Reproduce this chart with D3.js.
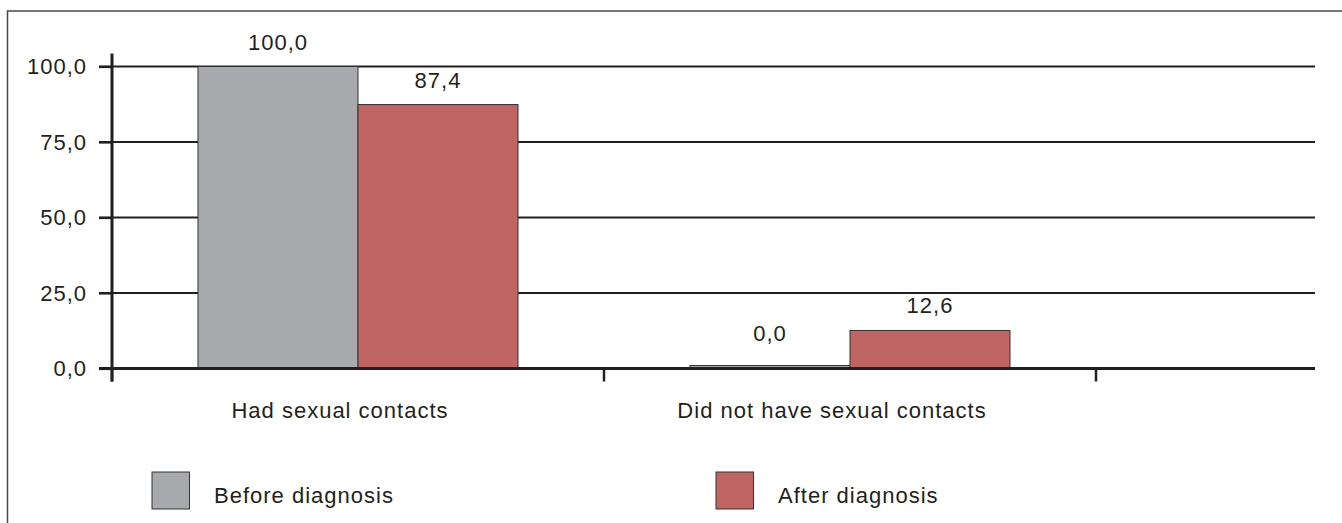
<!DOCTYPE html>
<html>
<head>
<meta charset="utf-8">
<script src="https://cdn.jsdelivr.net/npm/d3@7"></script>
<style>
  html, body { margin: 0; padding: 0; background: #fff; }
  svg { display: block; }
  text { font-family: "Liberation Sans", Arial, Helvetica, sans-serif; fill: #231f20; letter-spacing: 1px; }
</style>
</head>
<body>
<div id="chart"></div>
<script>
// ---- data ----
const categories = ["Had sexual contacts", "Did not have sexual contacts"];
const seriesNames = ["Before diagnosis", "After diagnosis"];
const beforeValues = [100.0, 0.0];
const afterValues = [87.4, 12.6];
const yTickValues = [0, 25, 50, 75, 100];
const seriesColors = ["#a7a9ac", "#c16464"];

// ---- setup ----
const W = 1342, H = 523;
const svg = d3.select("#chart").append("svg").attr("width", W).attr("height", H);
const ink = "#231f20";
const fmt = v => d3.format(".1f")(v).replace(".", ",");

// outer frame (extends past right/bottom edges)
svg.append("rect").attr("x", 7.5).attr("y", 11).attr("width", W + 20).attr("height", H + 20)
  .attr("fill", "none").attr("stroke", "#4a4a4a").attr("stroke-width", 1.5);

const plotLeft = 112, plotRight = 1315;
const y = d3.scaleLinear().domain([0, 100]).range([368.5, 66.5]);
const x = d3.scaleBand().domain(categories).range([plotLeft, 1096]).padding(0);
const barW = 160;
const xs = d3.scaleBand().domain(seriesNames).range([0, barW * 2]);

const tickLen = 13;

// gridlines
svg.append("g").selectAll("line").data(yTickValues).join("line")
  .attr("x1", plotLeft - tickLen).attr("x2", plotRight)
  .attr("y1", d => y(d)).attr("y2", d => y(d))
  .attr("stroke", ink).attr("stroke-width", d => d === 0 ? 3 : 2.2);

// bars
const rows = categories.map((c, i) => ({ c, vals: [beforeValues[i], afterValues[i]] }));
const groups = svg.append("g").selectAll("g").data(rows).join("g")
  .attr("transform", d => `translate(${x(d.c) + x.bandwidth() / 2 - barW},0)`);
groups.selectAll("rect").data(d => d.vals.map((v, j) => ({ v, s: seriesNames[j], j }))).join("rect")
  .attr("x", d => xs(d.s))
  .attr("width", xs.bandwidth())
  .attr("y", d => Math.min(y(d.v), y(0) - 3))
  .attr("height", d => Math.max(y(0) - y(d.v), 3))
  .attr("fill", d => seriesColors[d.j])
  .attr("stroke", "#333").attr("stroke-width", 1);
groups.selectAll("text.val").data(d => d.vals.map((v, j) => ({ v, s: seriesNames[j] }))).join("text")
  .attr("class", "val")
  .attr("x", d => xs(d.s) + xs.bandwidth() / 2)
  .attr("y", d => Math.min(y(d.v) - 17, y(0) - 28))
  .attr("text-anchor", "middle")
  .style("font-size", "22px")
  .text(d => fmt(d.v));

// zero line on top of bars
svg.append("line").attr("x1", plotLeft).attr("x2", plotRight).attr("y1", y(0)).attr("y2", y(0))
  .attr("stroke", ink).attr("stroke-width", 3);

// y axis
const yAxis = d3.axisLeft(y).tickValues(yTickValues).tickSize(tickLen).tickPadding(12).tickFormat(fmt);
const yg = svg.append("g").attr("transform", `translate(${plotLeft},0)`).call(yAxis);
yg.select(".domain").remove();
yg.selectAll(".tick line").attr("stroke", ink).attr("stroke-width", 2.2);
yg.selectAll(".tick text").style("font-size", "22px").style("font-family", null).attr("fill", ink);
yg.attr("font-family", null).attr("font-size", null);
svg.append("line").attr("x1", plotLeft).attr("x2", plotLeft)
  .attr("y1", y(100) - tickLen).attr("y2", y(0) + tickLen)
  .attr("stroke", ink).attr("stroke-width", 3);

// x ticks at band boundaries
const xBounds = categories.map(c => x(c)).concat([x.range()[1]]);
svg.append("g").selectAll("line").data(xBounds).join("line")
  .attr("x1", d => d).attr("x2", d => d)
  .attr("y1", y(0)).attr("y2", y(0) + tickLen)
  .attr("stroke", ink).attr("stroke-width", 2.5);

// category labels
svg.append("g").selectAll("text").data(categories).join("text")
  .attr("x", d => x(d) + x.bandwidth() / 2 - 18)
  .attr("y", y(0) + 49)
  .attr("text-anchor", "middle")
  .style("font-size", "22px")
  .text(d => d);

// legend
const lx = d3.scalePoint().domain(seriesNames).range([152, 716]);
const lg = svg.append("g").selectAll("g").data(seriesNames).join("g")
  .attr("transform", d => `translate(${lx(d)},472)`);
lg.append("rect").attr("width", 37.5).attr("height", 37)
  .attr("fill", (d, i) => seriesColors[i]).attr("stroke", "#333").attr("stroke-width", 1);
lg.append("text").attr("x", 62).attr("y", 30.5).style("font-size", "22px").text(d => d);
</script>
</body>
</html>
